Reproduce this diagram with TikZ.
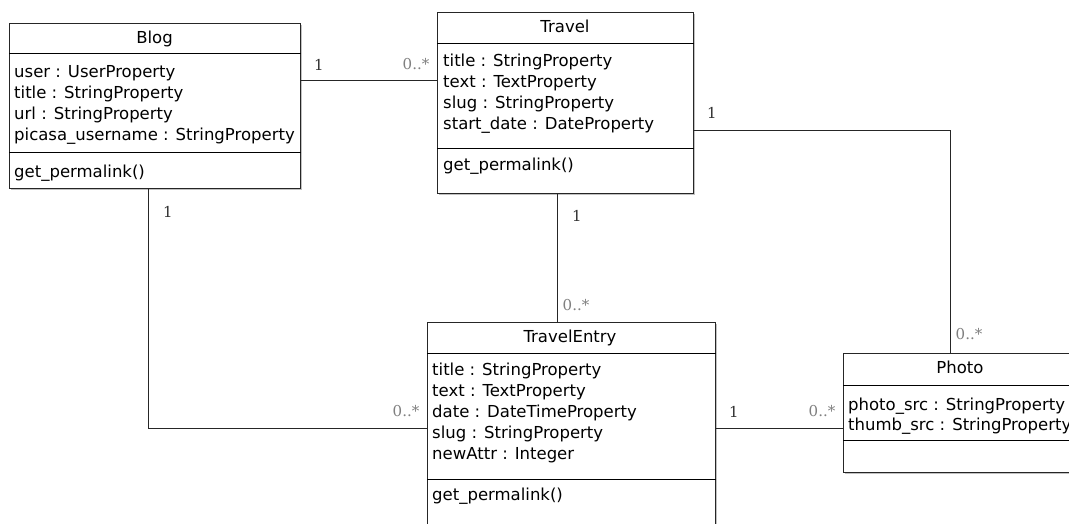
\documentclass[tikz,border=0pt]{standalone}
\usepackage{fontspec}
\setmainfont{DejaVu Sans}
\newfontfamily\multfont{DejaVu Serif}
\usetikzlibrary{shadows}

\tikzset{
  classbox/.style={draw=black!85, line width=1pt, fill=white, anchor=north west, inner sep=0pt,
    drop shadow={shadow xshift=1.2pt, shadow yshift=-1.2pt, fill=black!40, opacity=0.6}},
  classname/.style={font=\fontsize{16.5}{21}\selectfont, anchor=base, inner sep=0pt},
  members/.style={font=\fontsize{16.5}{21}\selectfont, align=left, anchor=base west, inner sep=0pt},
  assoc/.style={draw=black!85, line width=1pt},
  one/.style={font=\multfont\fontsize{15}{15}\selectfont, text=black!80, inner sep=0pt},
  many/.style={font=\multfont\fontsize{15}{15}\selectfont, text=black!50, inner sep=0pt}
}

\begin{document}
\begin{tikzpicture}[x=1pt, y=-1pt]
\clip (0,0) rectangle (1069,523);
\fill[white] (0,0) rectangle (1069,523);

% classes
\node[classbox, minimum width=291pt, minimum height=165pt] (blog) at (9,23) {};
\node[classbox, minimum width=256pt, minimum height=181pt] (travel) at (437,12) {};
\node[classbox, minimum width=288pt, minimum height=220pt] (entry) at (427,322) {};
\node[classbox, minimum width=234pt, minimum height=119pt] (photo) at (843,353) {};

\draw (blog.west |- 0,53) -- (blog.east |- 0,53) (blog.west |- 0,152) -- (blog.east |- 0,152);
\draw (travel.west |- 0,43) -- (travel.east |- 0,43) (travel.west |- 0,148) -- (travel.east |- 0,148);
\draw (entry.west |- 0,353) -- (entry.east |- 0,353) (entry.west |- 0,479) -- (entry.east |- 0,479);
\draw (photo.west |- 0,385) -- (photo.east |- 0,385) (photo.west |- 0,440) -- (photo.east |- 0,440);

% last-line baselines for the member lists
\node[classname] (blogname) at (154.5,43.5) {Blog};
\node[members] (blogattr) at (14,140.5) {user : UserProperty\\title : StringProperty\\url : StringProperty\\picasa\_username : StringProperty};
\node[members] (blogops) at (14,177.5) {get\_permalink()};

\node[classname] (travelname) at (565,32.5) {Travel};
\node[members] (travelattr) at (443,129.5) {title : StringProperty\\text : TextProperty\\slug : StringProperty\\start\_date : DateProperty};
\node[members] (travelops) at (443,170.5) {get\_permalink()};

\node[classname] (entryname) at (570,342.5) {TravelEntry};
\node[members] (entryattr) at (432,459.5) {title : StringProperty\\text : TextProperty\\date : DateTimeProperty\\slug : StringProperty\\newAttr : Integer};
\node[members] (entryops) at (432,500.5) {get\_permalink()};

\node[classname] (photoname) at (960,373.5) {Photo};
\node[members, font=\fontsize{16.5}{19.5}\selectfont] (photoattr) at (848,430) {photo\_src : StringProperty\\thumb\_src : StringProperty};

% associations
\draw[assoc] (blog.east |- 0,80) -- (travel.west |- 0,80);
\draw[assoc] (travel.east |- 0,130) -| (photo.north -| 950,0);
\draw[assoc] (travel.south -| 557,0) -- (entry.north -| 557,0);
\draw[assoc] (blog.south -| 148,0) |- (entry.west |- 0,428);
\draw[assoc] (entry.east |- 0,428) -- (photo.west |- 0,428);

% multiplicities
\node[one] (m1) at (319,65) {1};
\node[many] (m2) at (416,64) {0..*};
\node[one] (m3) at (712,113) {1};
\node[many] (m4) at (969,334) {0..*};
\node[one] (m5) at (577,216) {1};
\node[many] (m6) at (576,305) {0..*};
\node[one] (m7) at (168,212) {1};
\node[many] (m8) at (406,411) {0..*};
\node[one] (m9) at (734,412) {1};
\node[many] (m10) at (822,411) {0..*};
\end{tikzpicture}
\end{document}
